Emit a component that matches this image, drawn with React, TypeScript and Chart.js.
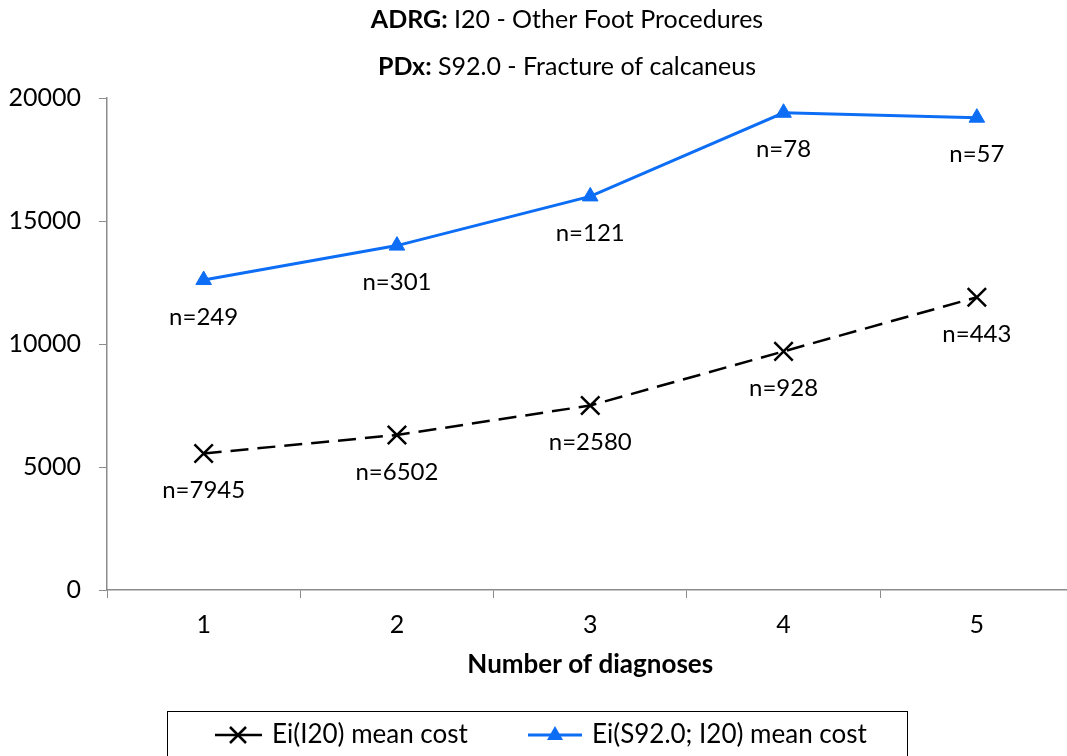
import { useEffect, useRef } from "react";
import { Chart, registerables } from "chart.js";

Chart.register(...registerables);

// Number of diagnoses on the x axis
const categories = ["1", "2", "3", "4", "5"];
// Mean cost for all I20 episodes
const allCost = [5550, 6300, 7500, 9700, 11900];
// Mean cost for S92.0 episodes within I20
const calcCost = [12600, 14000, 16000, 19400, 19200];
// Episode counts shown under each point
const allCounts = ["n=7945", "n=6502", "n=2580", "n=928", "n=443"];
const calcCounts = ["n=249", "n=301", "n=121", "n=78", "n=57"];

const seriesNames = ["Ei(I20) mean cost", "Ei(S92.0; I20) mean cost"];
const titleLines: [string, string][] = [
  ["ADRG:", " I20 - Other Foot Procedures"],
  ["PDx:", " S92.0 - Fracture of calcaneus"],
];
const xAxisTitle = "Number of diagnoses";

const FONT = "Lato, 'Open Sans', sans-serif";
const BLUE = "#0D6EF5";
const AXIS = "#8c8c8c";

const overlay = {
  id: "overlay",
  afterDatasetsDraw(chart: any) {
    const ctx = chart.ctx as CanvasRenderingContext2D;
    ctx.save();
    ctx.font = `24px ${FONT}`;
    ctx.fillStyle = "#000";
    ctx.textAlign = "center";
    ctx.textBaseline = "middle";
    const labelSets = [allCounts, calcCounts];
    labelSets.forEach((labels, di) => {
      const meta = chart.getDatasetMeta(di);
      meta.data.forEach((pt: any, i: number) => {
        ctx.fillText(labels[i], pt.x, pt.y + 37);
      });
    });
    ctx.restore();
  },
  afterDraw(chart: any) {
    const ctx = chart.ctx as CanvasRenderingContext2D;
    const area = chart.chartArea;
    ctx.save();
    ctx.fillStyle = "#000";
    ctx.textBaseline = "middle";
    ctx.textAlign = "left";

    // two-part titles: bold prefix, regular remainder
    const titleY = [20, 67];
    titleLines.forEach(([bold, rest], i) => {
      ctx.font = `bold 25px ${FONT}`;
      const wb = ctx.measureText(bold).width;
      ctx.font = `25px ${FONT}`;
      const wr = ctx.measureText(rest).width;
      const x0 = 567 - (wb + wr) / 2;
      ctx.font = `bold 25px ${FONT}`;
      ctx.fillText(bold, x0, titleY[i]);
      ctx.font = `25px ${FONT}`;
      ctx.fillText(rest, x0 + wb, titleY[i]);
    });

    // x axis title
    ctx.font = `bold 26px ${FONT}`;
    ctx.textAlign = "center";
    ctx.fillText(xAxisTitle, (area.left + area.right) / 2, 665);

    // legend box
    ctx.strokeStyle = "#000";
    ctx.lineWidth = 1;
    ctx.strokeRect(167.5, 711.5, 740, 80);

    const ly = 735;
    ctx.textAlign = "left";
    ctx.font = `26px ${FONT}`;

    // black dashed series key
    ctx.strokeStyle = "#000";
    ctx.lineWidth = 2.5;
    ctx.beginPath();
    ctx.moveTo(215, ly);
    ctx.lineTo(262, ly);
    ctx.stroke();
    ctx.beginPath();
    ctx.moveTo(230, ly - 8);
    ctx.lineTo(246, ly + 8);
    ctx.moveTo(230, ly + 8);
    ctx.lineTo(246, ly - 8);
    ctx.stroke();
    ctx.fillText(seriesNames[0], 272, ly);

    // blue series key
    ctx.strokeStyle = BLUE;
    ctx.fillStyle = BLUE;
    ctx.lineWidth = 3;
    ctx.beginPath();
    ctx.moveTo(528, ly);
    ctx.lineTo(582, ly);
    ctx.stroke();
    ctx.beginPath();
    ctx.moveTo(555, ly - 9);
    ctx.lineTo(563, ly + 5);
    ctx.lineTo(547, ly + 5);
    ctx.closePath();
    ctx.fill();
    ctx.fillStyle = "#000";
    ctx.fillText(seriesNames[1], 592, ly);

    ctx.restore();
  },
};

export default function App() {
  const canvasRef = useRef<HTMLCanvasElement | null>(null);

  useEffect(() => {
    if (!canvasRef.current) return;
    const chart = new Chart(canvasRef.current, {
      type: "line",
      data: {
        labels: categories,
        datasets: [
          {
            label: seriesNames[0],
            data: allCost,
            borderColor: "#000",
            backgroundColor: "#000",
            borderWidth: 2.5,
            borderDash: [18, 9],
            pointStyle: "crossRot",
            pointRadius: 13,
            pointBorderWidth: 2.5,
            pointBorderColor: "#000",
            tension: 0,
          },
          {
            label: seriesNames[1],
            data: calcCost,
            borderColor: BLUE,
            backgroundColor: BLUE,
            borderWidth: 3,
            pointStyle: "triangle",
            pointRadius: 9,
            pointBorderWidth: 1,
            pointBorderColor: BLUE,
            pointBackgroundColor: BLUE,
            tension: 0,
          },
        ],
      },
      options: {
        responsive: false,
        animation: false,
        layout: { padding: { top: 98, right: 7, bottom: 0, left: 0 } },
        plugins: {
          legend: { display: false },
          title: { display: false },
          tooltip: { enabled: false },
        },
        scales: {
          x: {
            offset: true,
            grid: {
              offset: true,
              drawOnChartArea: false,
              drawTicks: true,
              tickLength: 8,
              color: AXIS,
            },
            border: { color: AXIS, width: 1.5 },
            ticks: {
              color: "#000",
              font: { family: FONT, size: 25 },
              padding: 12,
            },
            afterFit(scale: any) {
              scale.height = 166;
            },
          },
          y: {
            min: 0,
            max: 20000,
            grid: {
              drawOnChartArea: false,
              drawTicks: true,
              tickLength: 8,
              color: AXIS,
            },
            border: { color: AXIS, width: 1.5 },
            ticks: {
              stepSize: 5000,
              color: "#000",
              font: { family: FONT, size: 25 },
              padding: 18,
              callback: (v: any) => String(v),
            },
            afterFit(scale: any) {
              scale.width = 107;
            },
          },
        },
      },
      plugins: [overlay],
    });
    return () => chart.destroy();
  }, []);

  return (
    <div
      style={{
        position: "fixed",
        left: 0,
        top: 0,
        width: 1067,
        height: 756,
        overflow: "hidden",
        background: "#fff",
      }}
    >
      <canvas
        ref={canvasRef}
        width={1089}
        height={756}
        style={{ display: "block", width: 1089, height: 756 }}
      />
    </div>
  );
}
